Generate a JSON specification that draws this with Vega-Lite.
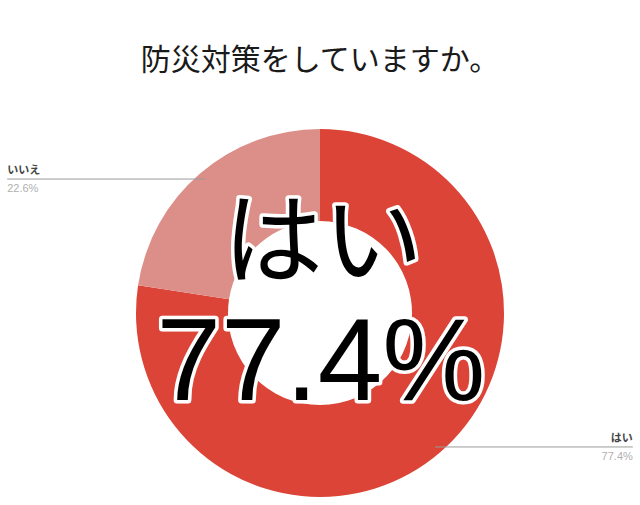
{
  "$schema": "https://vega.github.io/schema/vega-lite/v6.json",
  "autosize": "none",
  "padding": {"top": 121, "left": 0, "right": 0, "bottom": 0},
  "width": 640,
  "height": 384,
  "background": "white",
  "title": {
    "text": "防災対策をしていますか。",
    "font": "Noto Sans CJK JP",
    "fontSize": 30,
    "fontWeight": "normal",
    "color": "#1a1a1a",
    "anchor": "middle",
    "offset": 45
  },
  "config": {"view": {"stroke": null}},
  "data": {
    "values": [
      {"answer": "はい", "percent": 77.4, "order": 1},
      {"answer": "いいえ", "percent": 22.6, "order": 2}
    ]
  },
  "transform": [
    {"joinaggregate": [{"op": "sum", "field": "percent", "as": "total"}]},
    {"window": [{"op": "sum", "field": "percent", "as": "cum"}], "sort": [{"field": "order"}], "frame": [null, 0]},
    {"calculate": "2 * PI * (datum.cum - datum.percent / 2) / datum.total", "as": "mid"},
    {"calculate": "0.96 * sin(datum.mid)", "as": "ax"},
    {"calculate": "0.96 * cos(datum.mid)", "as": "ay"},
    {"calculate": "datum.ax < 0 ? -1.70 : 1.70", "as": "edge"},
    {"calculate": "format(datum.percent, '.1f') + '%'", "as": "label"}
  ],
  "layer": [
    {
      "mark": {"type": "arc", "outerRadius": 184, "innerRadius": 92},
      "encoding": {
        "theta": {"field": "percent", "type": "quantitative", "stack": true},
        "order": {"field": "order", "type": "quantitative"},
        "color": {
          "field": "answer",
          "type": "nominal",
          "legend": null,
          "scale": {"domain": ["はい", "いいえ"], "range": ["#db4437", "#dc8e88"]}
        }
      }
    },
    {
      "mark": {"type": "rule", "color": "#9a9a9a", "strokeWidth": 1},
      "encoding": {
        "x": {"field": "ax", "type": "quantitative", "scale": {"domain": [-1.739, 1.739], "nice": false, "zero": false}, "axis": null},
        "x2": {"field": "edge"},
        "y": {"field": "ay", "type": "quantitative", "scale": {"domain": [-1.0435, 1.0435], "nice": false, "zero": false}, "axis": null}
      }
    },
    {
      "mark": {"type": "text", "font": "Noto Sans CJK JP", "fontSize": 11, "fontWeight": "bold", "color": "#444444", "baseline": "alphabetic", "dy": -5, "align": {"expr": "datum.edge < 0 ? 'left' : 'right'"}},
      "encoding": {
        "x": {"field": "edge", "type": "quantitative", "scale": {"domain": [-1.739, 1.739], "nice": false, "zero": false}, "axis": null},
        "y": {"field": "ay", "type": "quantitative", "scale": {"domain": [-1.0435, 1.0435], "nice": false, "zero": false}, "axis": null},
        "text": {"field": "answer"}
      }
    },
    {
      "mark": {"type": "text", "font": "Liberation Sans", "fontSize": 11, "color": "#b0b0b0", "baseline": "top", "dy": 4, "align": {"expr": "datum.edge < 0 ? 'left' : 'right'"}},
      "encoding": {
        "x": {"field": "edge", "type": "quantitative", "scale": {"domain": [-1.739, 1.739], "nice": false, "zero": false}, "axis": null},
        "y": {"field": "ay", "type": "quantitative", "scale": {"domain": [-1.0435, 1.0435], "nice": false, "zero": false}, "axis": null},
        "text": {"field": "label"}
      }
    },
    {
      "transform": [{"filter": "datum.answer === 'はい'"}],
      "layer": [
        {
          "mark": {"type": "text", "font": "Noto Sans CJK JP", "fontSize": 100, "align": "center", "baseline": "alphabetic", "dy": -37, "dx": 3, "fill": "black", "stroke": "white", "strokeWidth": 7, "strokeJoin": "round"},
          "encoding": {"text": {"field": "answer"}}
        },
        {
          "mark": {"type": "text", "font": "Noto Sans CJK JP", "fontSize": 100, "align": "center", "baseline": "alphabetic", "dy": -37, "dx": 3, "fill": "black"},
          "encoding": {"text": {"field": "answer"}}
        },
        {
          "mark": {"type": "text", "font": "Liberation Sans", "fontSize": 116, "align": "center", "baseline": "alphabetic", "dy": 87, "dx": 1, "fill": "black", "stroke": "white", "strokeWidth": 7, "strokeJoin": "round"},
          "encoding": {"text": {"field": "label"}}
        },
        {
          "mark": {"type": "text", "font": "Liberation Sans", "fontSize": 116, "align": "center", "baseline": "alphabetic", "dy": 87, "dx": 1, "fill": "black"},
          "encoding": {"text": {"field": "label"}}
        }
      ],
      "encoding": {
        "x": {"datum": 0, "type": "quantitative", "scale": {"domain": [-1.739, 1.739], "nice": false, "zero": false}, "axis": null},
        "y": {"datum": 0, "type": "quantitative", "scale": {"domain": [-1.0435, 1.0435], "nice": false, "zero": false}, "axis": null}
      }
    }
  ]
}
